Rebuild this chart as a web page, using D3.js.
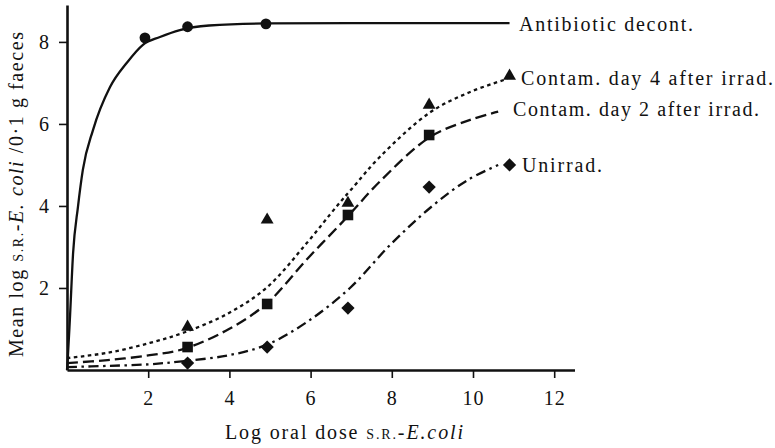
<!DOCTYPE html>
<html>
<head>
<meta charset="utf-8">
<script src="https://cdn.jsdelivr.net/npm/d3@7"></script>
<style>
  html, body { margin: 0; padding: 0; background: #fff; }
  svg { display: block; }
  text { font-family: "Liberation Serif", "Times New Roman", serif; fill: #111; }
</style>
</head>
<body>
<svg id="chart" width="775" height="448"></svg>
<script>
// ---- data ----
const xTicks = [2, 4, 6, 8, 10, 12];
const yTicks = [2, 4, 6, 8];

const seriesNames = ["Antibiotic decont.", "Contam. day 4 after irrad.", "Contam. day 2 after irrad.", "Unirrad."];

// observed points
const antibioticX = [1.92, 2.97, 4.9];
const antibioticY = [8.1, 8.37, 8.44];
const day4X = [2.97, 4.93, 6.92, 8.92, 10.9];
const day4Y = [1.05, 3.66, 4.07, 6.46, 7.17];
const day2X = [2.97, 4.93, 6.92, 8.92];
const day2Y = [0.56, 1.61, 3.78, 5.73];
const unirradX = [2.97, 4.93, 6.92, 8.92, 10.9];
const unirradY = [0.17, 0.56, 1.51, 4.46, 5.0];

// fitted curves
const antibioticCurveX = [0, 0.02, 0.07, 0.15, 0.27, 0.39, 0.64, 1.06, 1.48, 1.87, 2.29, 2.78, 3.5, 4.9, 7.0, 10.9];
const antibioticCurveY = [0, 0.3, 1.22, 2.85, 3.98, 4.88, 5.85, 6.9, 7.5, 7.93, 8.12, 8.29, 8.4, 8.45, 8.46, 8.46];
const day4CurveX = [0, 1.0, 2.04, 2.9, 3.99, 4.93, 5.91, 6.65, 7.0, 7.71, 8.94, 9.93, 10.85];
const day4CurveY = [0.29, 0.42, 0.66, 0.92, 1.39, 2.02, 3.1, 4.0, 4.4, 5.2, 6.28, 6.78, 7.1];
const day2CurveX = [0, 1.0, 2.04, 2.9, 3.99, 4.93, 5.91, 6.92, 7.71, 8.94, 9.93, 10.62];
const day2CurveY = [0.17, 0.24, 0.36, 0.52, 1.0, 1.63, 2.7, 3.75, 4.6, 5.68, 6.1, 6.3];
const unirradCurveX = [0, 1.0, 2.04, 2.9, 3.99, 4.93, 5.91, 6.97, 7.96, 9.0, 9.85, 10.62];
const unirradCurveY = [0.07, 0.1, 0.14, 0.22, 0.36, 0.62, 1.17, 2.0, 3.05, 4.0, 4.62, 5.0];

// ---- drawing ----
const svg = d3.select("#chart");
const x = d3.scaleLinear().domain([0, 12.5]).range([67, 574.5]);
const y = d3.scaleLinear().domain([0, 8.9]).range([370, 5]);

const zip = (xs, ys) => xs.map((v, i) => [v, ys[i]]);
const lineMono = d3.line().x(d => x(d[0])).y(d => y(d[1])).curve(d3.curveMonotoneX);
const lineSmooth = d3.line().x(d => x(d[0])).y(d => y(d[1])).curve(d3.curveCatmullRom.alpha(0.5));

// curves
const curves = [
  {pts: zip(antibioticCurveX, antibioticCurveY), dash: null, gen: lineMono},
  {pts: zip(day4CurveX, day4CurveY), dash: "3.5,3.5", gen: lineSmooth},
  {pts: zip(day2CurveX, day2CurveY), dash: "11,5", gen: lineSmooth},
  {pts: zip(unirradCurveX, unirradCurveY), dash: "10,4.5,2.5,4.5", gen: lineSmooth}
];
svg.append("g").selectAll("path").data(curves).join("path")
  .attr("d", d => d.gen(d.pts))
  .attr("fill", "none")
  .attr("stroke", "#111")
  .attr("stroke-width", 2.3)
  .attr("stroke-dasharray", d => d.dash);

// axes
const xAxis = d3.axisBottom(x).tickValues(xTicks).tickSize(8).tickSizeOuter(0).tickPadding(13);
const yAxis = d3.axisLeft(y).tickValues(yTicks).tickSize(8).tickSizeOuter(0).tickPadding(9);

const gx = svg.append("g").attr("transform", "translate(0,370)").call(xAxis);
const gy = svg.append("g").attr("transform", "translate(67,0)").call(yAxis);
[gx, gy].forEach(g => {
  g.select(".domain").attr("stroke", "#111").attr("stroke-width", 2.6);
  g.selectAll(".tick line").attr("stroke", "#111").attr("stroke-width", 1.6);
  g.selectAll(".tick text").attr("font-family", "Liberation Serif, serif").attr("font-size", 20)
    .attr("letter-spacing", 1).attr("fill", "#111");
});

// markers
const mk = svg.append("g").attr("fill", "#111");
mk.selectAll("circle").data(zip(antibioticX, antibioticY)).join("circle")
  .attr("cx", d => x(d[0])).attr("cy", d => y(d[1])).attr("r", 5.4);
const tri = d3.symbol().type(d3.symbolTriangle).size(72);
mk.selectAll("path.tri").data(zip(day4X, day4Y)).join("path").attr("class", "tri")
  .attr("d", tri).attr("transform", d => `translate(${x(d[0])},${y(d[1])})`);
mk.selectAll("rect").data(zip(day2X, day2Y)).join("rect")
  .attr("x", d => x(d[0]) - 5.3).attr("y", d => y(d[1]) - 5.3).attr("width", 10.6).attr("height", 10.6);
const dia = d3.symbol().type(d3.symbolSquare).size(88);
mk.selectAll("path.dia").data(zip(unirradX, unirradY)).join("path").attr("class", "dia")
  .attr("d", dia).attr("transform", d => `translate(${x(d[0])},${y(d[1])}) rotate(45)`);

// series labels
const labelPos = [[519, 31, 174], [521, 85, 252], [513, 116, 246], [522, 172, 80]];
svg.append("g").selectAll("text").data(seriesNames).join("text")
  .attr("x", (d, i) => labelPos[i][0]).attr("y", (d, i) => labelPos[i][1])
  .attr("font-size", 20)
  .attr("textLength", (d, i) => labelPos[i][2]).attr("lengthAdjust", "spacing")
  .text(d => d);

// axis titles
const xt = svg.append("text").attr("x", 225).attr("y", 439).attr("font-size", 20)
  .attr("textLength", 238).attr("lengthAdjust", "spacing");
xt.append("tspan").text("Log oral dose ");
xt.append("tspan").attr("font-size", 14).text("S.R.");
xt.append("tspan").text("-");
xt.append("tspan").attr("font-style", "italic").text("E.coli");

const yt = svg.append("text").attr("transform", "translate(23,357) rotate(-90)").attr("font-size", 20)
  .attr("textLength", 325).attr("lengthAdjust", "spacing");
yt.append("tspan").text("Mean log ");
yt.append("tspan").attr("font-size", 14).text("S.R.");
yt.append("tspan").text("-");
yt.append("tspan").attr("font-style", "italic").text("E. coli");
yt.append("tspan").text(" /0·1 g faeces");
</script>
</body>
</html>
